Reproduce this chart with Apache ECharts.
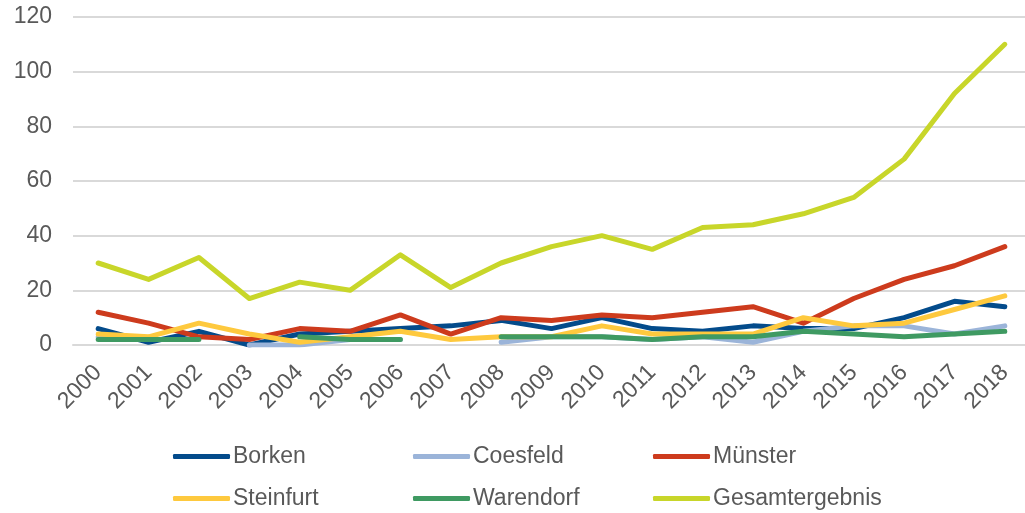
<!DOCTYPE html>
<html lang="de">
<head>
    <meta charset="UTF-8">
    <title>Chart</title>
    <style>
        html, body { margin: 0; padding: 0; background: #fff; }
        #main { width: 1025px; height: 513px; }
    </style>
</head>
<body>
<div id="main"></div>

<script src="https://cdn.jsdelivr.net/npm/echarts@6.0.0/dist/echarts.min.js"></script>
<script>
    // Jahre
    var years = ['2000', '2001', '2002', '2003', '2004', '2005', '2006', '2007', '2008', '2009',
        '2010', '2011', '2012', '2013', '2014', '2015', '2016', '2017', '2018'];

    // Werte je Kreis (null = Lücke)
    var borken = [6, 1, 5, 0, 4, 5, 6, 7, 9, 6, 10, 6, 5, 7, 6, 6, 10, 16, 14];
    var coesfeld = [3, 2, null, 0, 0, 2, 2, null, 1, 3, 3, 2, 3, 1, 5, 7, 7, 4, 7];
    var muenster = [12, 8, 3, 2, 6, 5, 11, 4, 10, 9, 11, 10, 12, 14, 8, 17, 24, 29, 36];
    var steinfurt = [4, 3, 8, 4, 1, 3, 5, 2, 3, 3, 7, 4, 4, 4, 10, 7, 8, 13, 18];
    var warendorf = [2, 2, 2, null, 3, 2, 2, null, 3, 3, 3, 2, 3, 3, 5, 4, 3, 4, 5];
    var gesamt = [30, 24, 32, 17, 23, 20, 33, 21, 30, 36, 40, 35, 43, 44, 48, 54, 68, 92, 110];

    var yTicks = [0, 20, 40, 60, 80, 100, 120];

    var font = "'Liberation Sans', Arial, sans-serif";
    var grey = '#595959';

    function makeSeries(name, data, color) {
        return {
            name: name,
            type: 'line',
            data: data,
            showSymbol: false,
            symbol: 'none',
            connectNulls: false,
            lineStyle: { width: 5, color: color, cap: 'round', join: 'round' },
            itemStyle: { color: color },
            emphasis: { disabled: true }
        };
    }

    // one legend per entry, so they line up in columns like the original
    function makeLegend(left, top, name) {
        return {
            left: left,
            top: top,
            itemWidth: 57,
            itemHeight: 5,
            icon: 'roundRect',
            data: [name],
            textStyle: { fontFamily: font, fontSize: 23, color: grey, padding: [0, 0, 0, -2] }
        };
    }

    var myChart = echarts.init(document.getElementById('main'));
    var option = {
        animation: false,
        backgroundColor: '#fff',
        grid: {
            left: 73,
            top: 17,
            width: 957,
            height: 328,
            outerBoundsMode: 'none',
            containLabel: false
        },
        legend: [
            makeLegend(168, 440, 'Borken'),
            makeLegend(408, 440, 'Coesfeld'),
            makeLegend(648, 440, 'Münster'),
            makeLegend(168, 482, 'Steinfurt'),
            makeLegend(408, 482, 'Warendorf'),
            makeLegend(648, 482, 'Gesamtergebnis')
        ],
        xAxis: {
            type: 'category',
            data: years,
            boundaryGap: true,
            axisLine: { show: true, lineStyle: { color: '#d9d9d9', width: 2 } },
            axisTick: { show: false },
            axisLabel: {
                rotate: 45,
                margin: 24,
                fontFamily: font,
                fontSize: 23,
                color: grey,
                interval: 0
            }
        },
        yAxis: {
            type: 'value',
            min: yTicks[0],
            max: yTicks[yTicks.length - 1],
            interval: 20,
            axisLine: { show: false },
            axisTick: { show: false },
            splitLine: { lineStyle: { color: '#d9d9d9', width: 2 } },
            axisLabel: {
                margin: 21,
                fontFamily: font,
                fontSize: 23,
                color: grey
            }
        },
        series: [
            makeSeries('Borken', borken, '#034b8b'),
            makeSeries('Coesfeld', coesfeld, '#9bb4d9'),
            makeSeries('Münster', muenster, '#cd3b1d'),
            makeSeries('Steinfurt', steinfurt, '#fec93e'),
            makeSeries('Warendorf', warendorf, '#3f9a62'),
            makeSeries('Gesamtergebnis', gesamt, '#c8d62a')
        ]
    };

    myChart.setOption(option);
</script>
</body>
</html>
